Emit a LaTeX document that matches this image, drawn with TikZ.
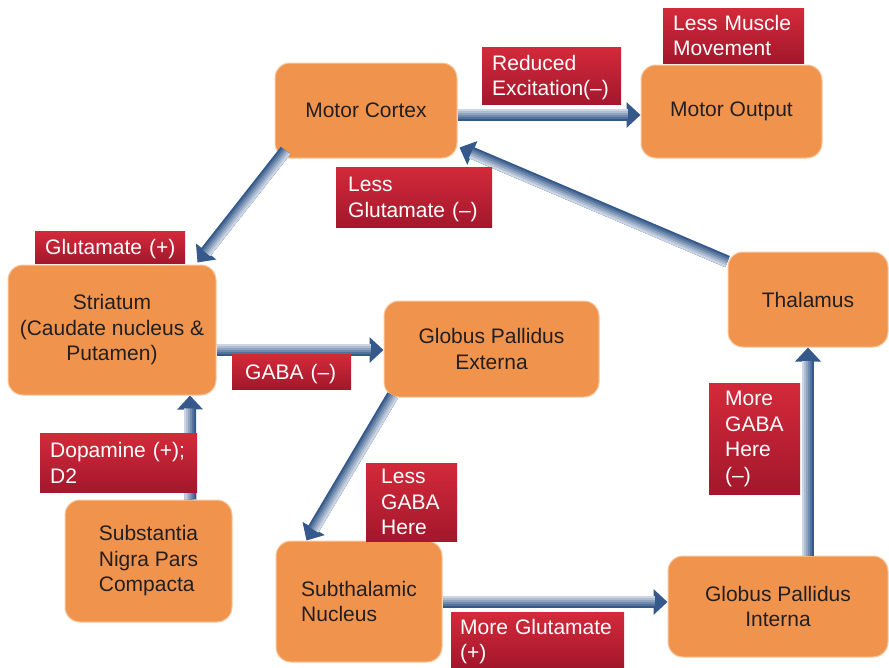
\documentclass[tikz,border=0pt]{standalone}
\usepackage{fontspec}
\setmainfont{Liberation Sans}
\usetikzlibrary{arrows.meta,calc}
\definecolor{boxfill}{HTML}{F0944D}
\definecolor{boxline}{HTML}{F8C7A0}
\definecolor{redtop}{HTML}{D32A3A}
\definecolor{redbot}{HTML}{A3172C}
\definecolor{flowd}{HTML}{34598A}
\definecolor{flowl}{HTML}{D4DCE8}
\definecolor{txt}{HTML}{231F20}
\newcommand\flowarr[2]{%
  \draw[flow] (#1) -- (#2);
  \foreach \i in {1,...,5}{%
    \pgfmathtruncatemacro\w{12-2*\i}%
    \pgfmathtruncatemacro\p{\i*19}%
    \draw[line width=\w pt, draw=flowl!\p!flowd, shorten >=13pt]
      ($(#1)!\i pt!90:(#2)$) -- ($(#2)!\i pt!-90:(#1)$);
  }%
}
\newcommand\lowr{\rule{0pt}{19pt}}
\begin{document}
\begin{tikzpicture}[x=1pt,y=-1pt,
  obox/.style={draw=boxline, line width=1pt, fill=boxfill, rounded corners=15pt,
    text=txt, font=\fontsize{21}{25.5}\selectfont, align=center, inner sep=0pt},
  rlab/.style={top color=redtop, bottom color=redbot, draw=none, text=white,
    font=\fontsize{21}{25.5}\selectfont, align=left, inner xsep=10pt,
    inner ysep=0pt, anchor=north west},
  flow/.style={draw=flowd, line width=12pt, -{Triangle[width=25pt,length=14pt]}}]
\useasboundingbox (0,0) rectangle (889,667);

% orange boxes
\node[obox, minimum width=182pt, minimum height=95pt] (mc) at (366,110.5) {Motor Cortex};
\node[obox, minimum width=181pt, minimum height=93pt] (mo) at (731.5,111.5) {Motor Output};
\node[obox, minimum width=208pt, minimum height=130pt] (st) at (112,330) {Striatum\\(Caudate nucleus \&\\Putamen)};
\node[obox, minimum width=215pt, minimum height=96pt] (gpe) at (491.5,349) {Globus Pallidus\\Externa};
\node[obox, minimum width=160pt, minimum height=95pt] (th) at (808,299.5) {Thalamus};
\node[obox, minimum width=167pt, minimum height=122pt, align=left] (sn) at (148.5,561) {Substantia\\Nigra Pars\\Compacta};
\node[obox, minimum width=166pt, minimum height=121pt, align=left] (stn) at (359,601.5) {Subthalamic\\Nucleus};
\node[obox, minimum width=220pt, minimum height=101pt] (gpi) at (778,606.5) {Globus Pallidus\\Interna};

% arrow end points
\coordinate (a1s) at ($(mc.east)+(0,4.5)$);
\coordinate (a1e) at ($(mo.west)+(0,3.5)$);
\coordinate (a2s) at ($(th.north west)+(0,10)$);
\coordinate (a2e) at ($(mc.south east)+(2,-11)$);
\coordinate (a3s) at ($(mc.south west)+(11,-8)$);
\coordinate (a3e) at ($(st.north east)+(-19,-2)$);
\coordinate (a4s) at ($(st.east)+(0,20)$);
\coordinate (a4e) at ($(gpe.west)+(0,1)$);
\coordinate (a5s) at ($(sn.north)+(42,0)$);
\coordinate (a5e) at ($(st.south)+(78,0)$);
\coordinate (a6s) at ($(gpe.south west)+(9,-2)$);
\coordinate (a6e) at ($(stn.north west)+(31,0)$);
\coordinate (a7s) at ($(stn.east)+(0,0.5)$);
\coordinate (a7e) at ($(gpi.west)+(0,-4.5)$);
\coordinate (a8s) at ($(gpi.north)+(30,0)$);
\coordinate (a8e) at (th.south);

% arrows
\flowarr{a1s}{a1e}
\flowarr{a2s}{a2e}
\flowarr{a3s}{a3e}
\flowarr{a4s}{a4e}
\flowarr{a5s}{a5e}
\flowarr{a6s}{a6e}
\flowarr{a7s}{a7e}
\flowarr{a8s}{a8e}

% red labels
\node[rlab, text width=121pt, minimum height=55pt] (lmm) at (663,8) {Less~Muscle\\Movement};
\node[rlab, text width=119pt, minimum height=57pt] (rex) at (482,47) {\lowr Reduced\\Excitation(–)};
\node[rlab, inner xsep=12pt, text width=132pt, minimum height=60pt] (lglu) at (336,167) {\lowr Less\\Glutamate~(–)};
\node[rlab, text width=130pt, minimum height=32pt, text depth=0pt] (glu) at (35,231) {Glutamate~(+)};
\node[rlab, inner xsep=13pt, text width=93pt, minimum height=35pt, text depth=0pt] (gaba) at (232,354) {GABA~(–)};
\node[rlab, text width=137pt, minimum height=59pt] (dop) at (40,433) {Dopamine~(+);\\D2};
\node[rlab, inner xsep=15pt, text width=61pt, minimum height=78pt] (lgaba) at (366,463) {Less\\GABA\\Here};
\node[rlab, inner xsep=16pt, text width=59pt, minimum height=111pt] (mgaba) at (709,383) {More\\GABA\\Here\\(–)};
\node[rlab, inner xsep=9pt, text width=155pt, minimum height=55pt] (mglu) at (451,612) {\lowr More~Glutamate\\(+)};
\end{tikzpicture}
\end{document}
